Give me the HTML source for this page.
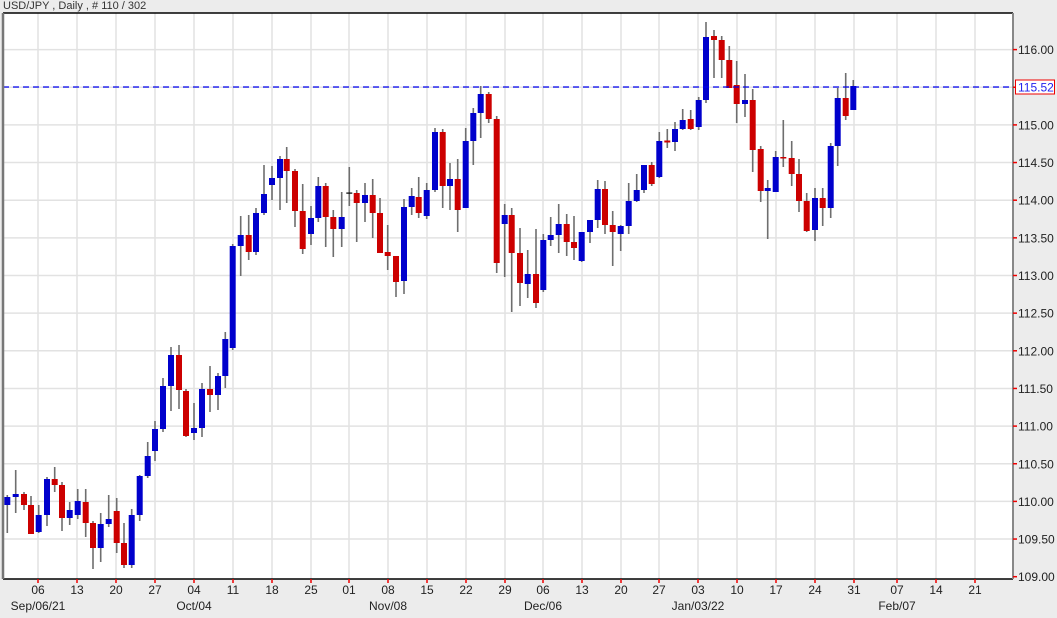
<!DOCTYPE html>
<html><head><meta charset="utf-8"><style>
html,body{margin:0;padding:0;background:#ececec;}
svg{display:block;font-family:"Liberation Sans",Arial,sans-serif;}
</style></head><body>
<svg id="c" width="1057" height="618" xmlns="http://www.w3.org/2000/svg">
<rect x="0" y="0" width="1057" height="618" fill="#ececec"/>
<rect x="3" y="13" width="1010" height="566" fill="#ffffff"/>
<g id="grid" stroke="#e2e2e2" stroke-width="1.5"></g>
<g id="candles"></g>
<line x1="3" y1="87" x2="1013" y2="87" stroke="#0000ee" stroke-width="1.2" stroke-dasharray="6,4"/>
<line x1="3" y1="13" x2="1013" y2="13" stroke="#000" stroke-width="1.5"/>
<line x1="3" y1="579" x2="1013" y2="579" stroke="#000" stroke-width="1.5"/>
<line x1="3" y1="13" x2="3" y2="579" stroke="#777" stroke-width="2.5"/>
<line x1="1013" y1="13" x2="1013" y2="579" stroke="#888" stroke-width="2"/>
<g id="axis" font-size="12" fill="#222"></g>
<text x="3" y="9" font-size="11" fill="#333">USD/JPY , Daily , # 110 / 302</text>
<rect x="1015.5" y="80" width="39" height="14" fill="#fff" stroke="#ee0000" stroke-width="1"/>
<text x="1018" y="91.5" font-size="12" fill="#2222ee">115.52</text>
</svg>
<script>
var NS="http://www.w3.org/2000/svg";
function el(p,t,a,txt){var e=document.createElementNS(NS,t);for(var k in a)e.setAttribute(k,a[k]);if(txt)e.textContent=txt;p.appendChild(e);return e;}
var grid=document.getElementById('grid'),axis=document.getElementById('axis'),cg=document.getElementById('candles');
function py(p){return 49.6+(116-p)*75.3;}
for(var p=109;p<=116.01;p+=0.5){var y=py(p);
 if(p>109.01) el(grid,'line',{x1:3,y1:y,x2:1013,y2:y});
 el(axis,'line',{x1:1013,y1:y,x2:1017,y2:y,stroke:'#e00','stroke-width':1.5});
 el(axis,'text',{x:1018,y:y+4.5},p.toFixed(2));}
var dx=[[38,'06'],[77,'13'],[116,'20'],[155,'27'],[194,'04'],[233,'11'],[272,'18'],[311,'25'],[349,'01'],[388,'08'],[427,'15'],[466,'22'],[505,'29'],[543,'06'],[582,'13'],[621,'20'],[659,'27'],[698,'03'],[737,'10'],[776,'17'],[815,'24'],[854,'31'],[897,'07'],[936,'14'],[975,'21']];
dx.forEach(function(d){el(grid,'line',{x1:d[0],y1:13,x2:d[0],y2:579});
 el(axis,'line',{x1:d[0],y1:579,x2:d[0],y2:583,stroke:'#e00','stroke-width':1.5});
 el(axis,'text',{x:d[0],y:594,'text-anchor':'middle'},d[1]);});
[[38,'Sep/06/21'],[194,'Oct/04'],[388,'Nov/08'],[543,'Dec/06'],[698,'Jan/03/22'],[897,'Feb/07']].forEach(function(m){el(axis,'text',{x:m[0],y:610,'text-anchor':'middle'},m[1]);});
var D=[
[7.3,495,533,497,505,'B'],[15.7,470,513,494,497,'B'],[24,492,510,494,505,'R'],[31,496,534,505,534,'R'],[38.7,505,533,515,532,'B'],
[47,477,526,479,515,'B'],[54.7,467,492,479,485,'R'],[62,482,531,485,518,'R'],[69.7,502,525,510,518,'B'],[77.7,489,519,501,515,'B'],
[85.7,489,537,502,523,'R'],[93,521,569,523,548,'R'],[100.7,513,562,524,548,'B'],[108.7,495,527,519,524,'B'],[116.7,498,553,511,543,'R'],
[124,523,568,543,565,'R'],[131.7,509,568,515,565,'B'],[139.7,475,521,476,515,'B'],[147.7,442,478,456,476,'B'],[155,421,461,429,451,'B'],
[163,378,432,386,429,'B'],[171,347,411,355,386,'B'],[179,345,409,355,390,'R'],[186,389,437,391,436,'R'],[194,403,440,428,433,'B'],
[202,383,437,389,428,'B'],[210,366,412,389,395,'R'],[218,373,410,376,395,'B'],[225.3,332,388,339,376,'B'],[232.7,244,350,246,348,'B'],
[240.7,216,276,235,246,'B'],[248.7,215,260,235,252,'R'],[256,208,255,213,252,'B'],[264,165,215,194,213,'B'],[272,166,200,178,185,'B'],
[280,156,210,159,178,'B'],[286.7,147,203,159,171,'R'],[295,169,227,171,211,'R'],[302.7,184,254,211,249,'R'],[311,206,245,218,234,'B'],
[318.3,177,222,186,218,'B'],[325.7,183,247,186,217,'R'],[333.3,210,257,217,229,'R'],[341.7,192,247,217,229,'B'],[349.3,167,206,192.5,193.5,'K'],
[356.7,190,242,193,203,'R'],[365,183,222,195,203,'B'],[372.7,179,238,195,213,'R'],[380,198,253,213,253,'R'],[387.7,225,270,252,256,'R'],
[396,256,297,256,282,'R'],[404,199,294,207,281,'B'],[411.7,188,215,196,207,'B'],[418.7,177,218,197,213,'R'],[426.7,183,219,190,216,'B'],
[435,128,192,132,190,'B'],[442.7,129,208,132,186,'R'],[450,163,210,179,186,'B'],[457.7,159,232,179,210,'R'],[465.7,128,208,141,208,'B'],
[473.3,108,165,113,141,'B'],[480.7,86,138,94,113,'B'],[488.7,92,123,94,119,'R'],[496.7,116,273,119,263,'R'],[504.7,204,277,215,224,'B'],
[511.7,208,312,215,253,'R'],[520,228,306,253,283,'R'],[527.7,250,298,274,284,'B'],[536,229,308,274,303,'R'],[543.3,234,292,240,290,'B'],
[550.7,217,246,235,240,'B'],[558.7,204,253,224,235,'B'],[566.7,214,256,224,242,'R'],[574,216,260,242,248,'R'],[581.7,232,262,232,261,'B'],
[590,221,243,220,232,'B'],[597.7,180,228,189,220,'B'],[605,181,234,189,225,'R'],[612.7,211,266,225,232,'R'],[620.7,225,251,226,234,'B'],
[628.7,183,234,201,226,'B'],[636.7,174,202,190,201,'B'],[644,165,193,165,190,'B'],[651.7,162,186,165,184,'R'],[659.3,132,178,141,177,'B'],
[667.3,129,148,140.5,142.5,'R'],[675,122,151,129,142,'B'],[682.7,109,130,120,129,'B'],[690.7,110,130,119,129,'R'],[698.7,97,130,100,127,'B'],
[706,22,103,37,100,'B'],[714,30,78,36,40,'R'],[721.7,36,78,40,60,'R'],[729.3,46,88,60,88,'R'],[736.7,61,123,85,104,'R'],
[745,74,117,100,104,'B'],[752.7,89,172,100,150,'R'],[760.7,146,202,149,191,'R'],[767.7,180,239,188,191,'B'],[775.7,151,192,157,192,'B'],
[783.3,120,167,157,158.5,'R'],[791.7,141,186,158,174,'R'],[799,159,212,174,201,'R'],[806.7,193,232,201,231,'R'],[815,188,241,198,230,'B'],
[822.7,188,226,198,208,'R'],[830.7,143,218,146,208,'B'],[837.7,88,166,98,146,'B'],[845.7,73,120,98,116,'R'],[853.3,80,110,86,110,'B']
];
D.forEach(function(c){
 el(cg,'line',{x1:c[0],y1:c[1],x2:c[0],y2:c[2],stroke:'#6e6e6e','stroke-width':1.6});
 var col=c[5]=='B'?'#0000cc':(c[5]=='R'?'#cc0000':'#000');
 el(cg,'rect',{x:c[0]-3,y:c[3],width:6,height:Math.max(1.2,c[4]-c[3]),fill:col});
});
</script>
</body></html>
